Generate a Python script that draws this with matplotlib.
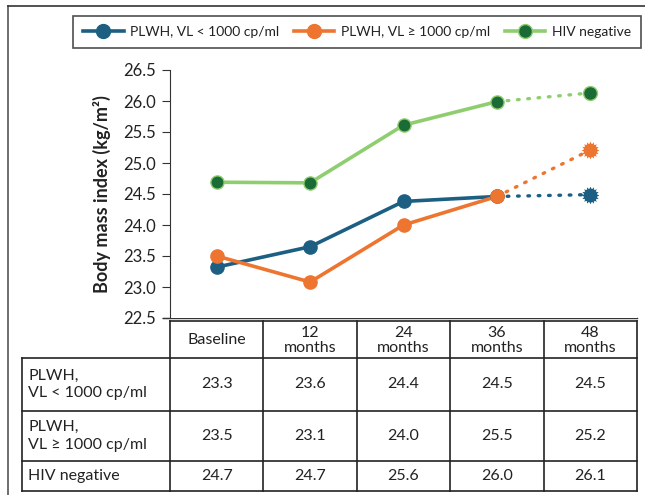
import matplotlib
matplotlib.use("Agg")
import matplotlib.pyplot as plt
from matplotlib.lines import Line2D

plt.rcParams['font.family'] = ['Lato', 'DejaVu Sans']

# ---- data ----
timepoints = ["Baseline", "12\nmonths", "24\nmonths", "36\nmonths", "48\nmonths"]
series_names = ["PLWH, VL < 1000 cp/ml", "PLWH, VL \u2265 1000 cp/ml", "HIV negative"]
row_labels = ["PLWH,\nVL < 1000 cp/ml", "PLWH,\nVL \u2265 1000 cp/ml", "HIV negative"]
vl_low = [23.32, 23.65, 24.38, 24.46, 24.49]
vl_high = [23.50, 23.08, 24.00, 24.46, 25.21]
hiv_neg = [24.69, 24.68, 25.61, 25.99, 26.13]
table_vl_low = ["23.3", "23.6", "24.4", "24.5", "24.5"]
table_vl_high = ["23.5", "23.1", "24.0", "25.5", "25.2"]
table_hiv_neg = ["24.7", "24.7", "25.6", "26.0", "26.1"]
yticks = [22.5, 23.0, 23.5, 24.0, 24.5, 25.0, 25.5, 26.0, 26.5]

BLUE = "#1d5f82"
ORANGE = "#ee7530"
LGREEN = "#8fce6f"
DGREEN = "#1b6b37"
TXT = "#222222"

W, H = 645, 495
fig = plt.figure(figsize=(W / 100, H / 100), dpi=100)

def fx(px):
    return px / W

def fy(py):
    return 1 - py / H

# main axes
ax_left, ax_right, ax_top, ax_bot = 170, 637, 70, 318
ax = fig.add_axes([fx(ax_left), fy(ax_bot), fx(ax_right - ax_left), (ax_bot - ax_top) / H])
x = list(range(len(timepoints)))
ax.set_xlim(-0.5, len(timepoints) - 0.5)
ax.set_ylim(22.5, 26.5)
ax.set_yticks(yticks)
ax.set_yticklabels([f"{v:.1f}" for v in yticks], fontsize=12, color=TXT)
ax.set_xticks([])
for s in ["top", "right", "bottom"]:
    ax.spines[s].set_visible(False)
ax.spines["left"].set_color("#333333")
ax.tick_params(axis="y", length=6, color="#333333", pad=4)
ax.set_ylabel("Body mass index (kg/m\u00b2)", fontsize=13, fontweight="bold", labelpad=9, color=TXT)

series = [(vl_low, BLUE, BLUE, BLUE), (vl_high, ORANGE, ORANGE, ORANGE), (hiv_neg, LGREEN, DGREEN, LGREEN)]
dot = (0, (0.5, 2.6))
for i, (vals, lc, fc, ec) in enumerate(series):
    ax.plot(x[:4], vals[:4], color=lc, lw=2.6, solid_capstyle="round", zorder=3)
    ax.plot(x[3:], vals[3:], color=lc, lw=2.4, linestyle=dot, dash_capstyle="round", zorder=3)
    ax.plot(x[:4], vals[:4], linestyle="none", marker="o", ms=9.5, mfc=fc, mec=ec, mew=1, zorder=4)
    if i < 2:
        ax.plot(x[4], vals[4], linestyle="none", marker=(16, 1, 0), ms=12, mfc=fc, mec=fc, mew=0.5, zorder=4)
        ax.plot(x[4], vals[4], linestyle="none", marker="o", ms=9, mfc=fc, mec=fc, zorder=5)
    else:
        ax.plot(x[4], vals[4], linestyle="none", marker="o", ms=10, mfc=fc, mec=ec, mew=1, zorder=4)

# overlay axes in pixel coords for frame and table
ov = fig.add_axes([0, 0, 1, 1], zorder=-1)
ov.set_xlim(0, W)
ov.set_ylim(H, 0)
ov.axis("off")
ov.patch.set_alpha(0)

# outer frame
ov.plot([8, 8], [6, H], color="#555555", lw=1.2)
ov.plot([8, W], [6, 6], color="#333333", lw=1.2)

# axis baseline extending left
ov.plot([163, 637], [318, 318], color="#333333", lw=1)

# table
col_edges = [170 + 93.4 * i for i in range(6)]
row_edges = [321, 358, 411, 461, 491]
lc_t = "#222222"
ov.plot([col_edges[0], col_edges[-1]], [row_edges[0], row_edges[0]], color=lc_t, lw=1.2)
for r in row_edges[1:]:
    ov.plot([22, col_edges[-1]], [r, r], color=lc_t, lw=1.2)
for c in col_edges:
    ov.plot([c, c], [row_edges[0], row_edges[-1]], color=lc_t, lw=1.2)
ov.plot([22, 22], [row_edges[1], row_edges[-1]], color=lc_t, lw=1.2)

FS = 11.5
for j, lab in enumerate(timepoints):
    cx = (col_edges[j] + col_edges[j + 1]) / 2
    ov.text(cx, (row_edges[0] + row_edges[1]) / 2 + 1, lab, ha="center", va="center",
            fontsize=FS, color=TXT, linespacing=1.1)

table_rows = [table_vl_low, table_vl_high, table_hiv_neg]
for i, (lab, vals) in enumerate(zip(row_labels, table_rows)):
    cy = (row_edges[i + 1] + row_edges[i + 2]) / 2
    ov.text(28, cy, lab, ha="left", va="center", fontsize=FS, color=TXT, linespacing=1.35)
    for j, v in enumerate(vals):
        cx = (col_edges[j] + col_edges[j + 1]) / 2
        ov.text(cx, cy, v, ha="center", va="center", fontsize=FS, color=TXT)

# legend
handles = []
for vals, lc, fc, ec in series:
    handles.append(Line2D([0], [0], color=lc, lw=2.6, marker="o", ms=10, mfc=fc, mec=ec))
leg = fig.legend(handles, series_names, loc="center", ncol=3,
                 bbox_to_anchor=(fx((73 + 641) / 2), fy(32)), frameon=True, fancybox=False,
                 edgecolor="#222222", fontsize=10, handlelength=2.9, columnspacing=1.1,
                 handletextpad=0.45, borderpad=0.75, borderaxespad=0)
leg.get_frame().set_linewidth(1.2)
for t in leg.get_texts():
    t.set_color(TXT)

fig.savefig("out.png", dpi=100)
